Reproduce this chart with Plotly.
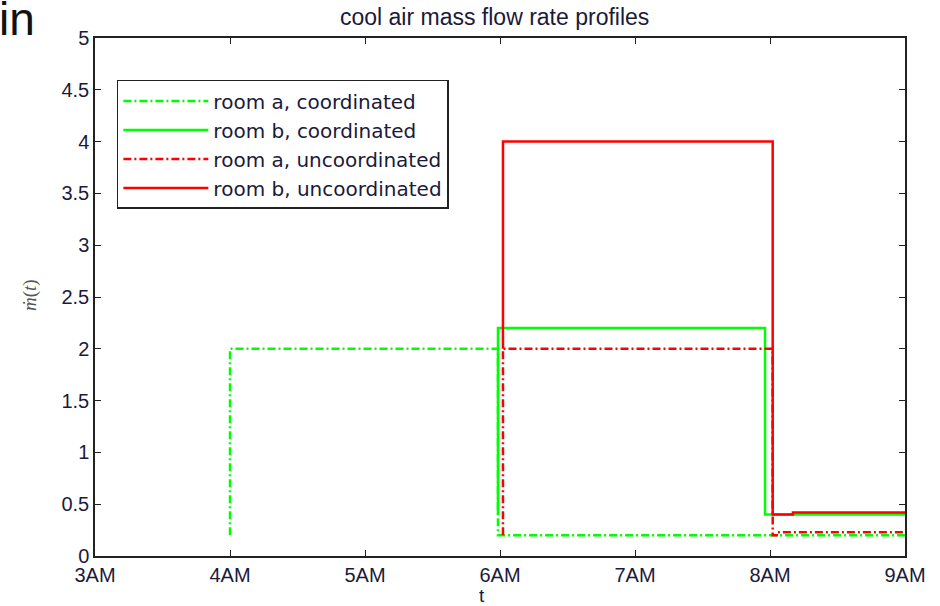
import plotly.graph_objects as go

# ---- data (hours after midnight; values) ----
ra_coord_t = [4.0, 4.0, 5.985, 5.985, 9.0]
ra_coord_v = [0.2, 2.0, 2.0, 0.2, 0.2]

rb_coord_t = [5.985, 5.985, 7.963, 7.963, 9.0]
rb_coord_v = [0.4, 2.2, 2.2, 0.4, 0.4]

ra_unc_t = [6.022, 6.022, 8.02, 8.02, 8.05, 8.05, 9.0]
ra_unc_v = [0.2, 2.0, 2.0, 0.2, 0.2, 0.23, 0.23]

rb_unc_t = [6.022, 6.022, 8.02, 8.02, 8.17, 8.17, 9.0]
rb_unc_v = [2.0, 4.0, 4.0, 0.4, 0.4, 0.42, 0.42]

x_tickvals = [3, 4, 5, 6, 7, 8, 9]
x_ticktext = ["3AM", "4AM", "5AM", "6AM", "7AM", "8AM", "9AM"]
y_tickvals = [0, 0.5, 1, 1.5, 2, 2.5, 3, 3.5, 4, 4.5, 5]
y_ticktext = ["0", "0.5", "1", "1.5", "2", "2.5", "3", "3.5", "4", "4.5", "5"]

GREEN = "#00FF00"
RED = "#FF0000"
DASHDOT = "8px,3px,2px,3px"

fig = go.Figure()
fig.add_trace(go.Scatter(x=ra_coord_t, y=ra_coord_v, mode="lines",
                         name="room a, coordinated",
                         line=dict(color=GREEN, width=2.5, dash=DASHDOT)))
fig.add_trace(go.Scatter(x=rb_coord_t, y=rb_coord_v, mode="lines",
                         name="room b, coordinated",
                         line=dict(color=GREEN, width=2.5)))
fig.add_trace(go.Scatter(x=ra_unc_t, y=ra_unc_v, mode="lines",
                         name="room a, uncoordinated",
                         line=dict(color=RED, width=2.5, dash=DASHDOT)))
fig.add_trace(go.Scatter(x=rb_unc_t, y=rb_unc_v, mode="lines",
                         name="room b, uncoordinated",
                         line=dict(color=RED, width=2.5)))

FONT = "Liberation Sans, Arial, sans-serif"
axis_common = dict(showline=True, linecolor="#222222", linewidth=1.5, mirror="ticks",
                   ticks="inside", ticklen=6, tickcolor="#222222", showgrid=False,
                   zeroline=False, tickfont=dict(family=FONT, size=20, color="#1a1a3a"))

fig.update_layout(
    width=940, height=606,
    margin=dict(l=95, r=35, t=38, b=50),
    paper_bgcolor="white", plot_bgcolor="white",
    showlegend=True,
    legend=dict(x=0.027, y=0.919, xanchor="left", yanchor="top",
                bordercolor="#222222", borderwidth=1.5, bgcolor="white",
                font=dict(family="DejaVu Sans, sans-serif", size=20, color="#1a1a3a"),
                itemwidth=85, tracegroupgap=0),
    xaxis=dict(range=[3, 9], tickvals=x_tickvals, ticktext=x_ticktext, **axis_common),
    yaxis=dict(range=[0, 5], tickvals=y_tickvals, ticktext=y_ticktext, **axis_common),
    annotations=[
        dict(text="cool air mass flow rate profiles", xref="paper", yref="paper",
             x=0.493, y=(556 - 17) / 518, xanchor="center", yanchor="middle",
             showarrow=False, font=dict(family=FONT, size=23, color="#1a1a3a")),
        dict(text="t", xref="paper", yref="paper", x=(482 - 95) / 810, y=(556 - 595) / 518,
             xanchor="center", yanchor="middle", showarrow=False,
             font=dict(family=FONT, size=19, color="#1a1a3a")),
        dict(text="<i>ṁ</i>(<i>t</i>)", xref="paper", yref="paper",
             x=(30 - 95) / 810, y=(556 - 295) / 518, xanchor="center", yanchor="middle",
             textangle=-90, showarrow=False,
             font=dict(family="Liberation Serif, serif", size=19, color="#555555")),
        dict(text="in", xref="paper", yref="paper", x=(-3 - 95) / 810, y=(556 - 19) / 518,
             xanchor="left", yanchor="middle", showarrow=False,
             font=dict(family=FONT, size=46, color="#111111")),
    ],
)

fig.write_html("out.html")
